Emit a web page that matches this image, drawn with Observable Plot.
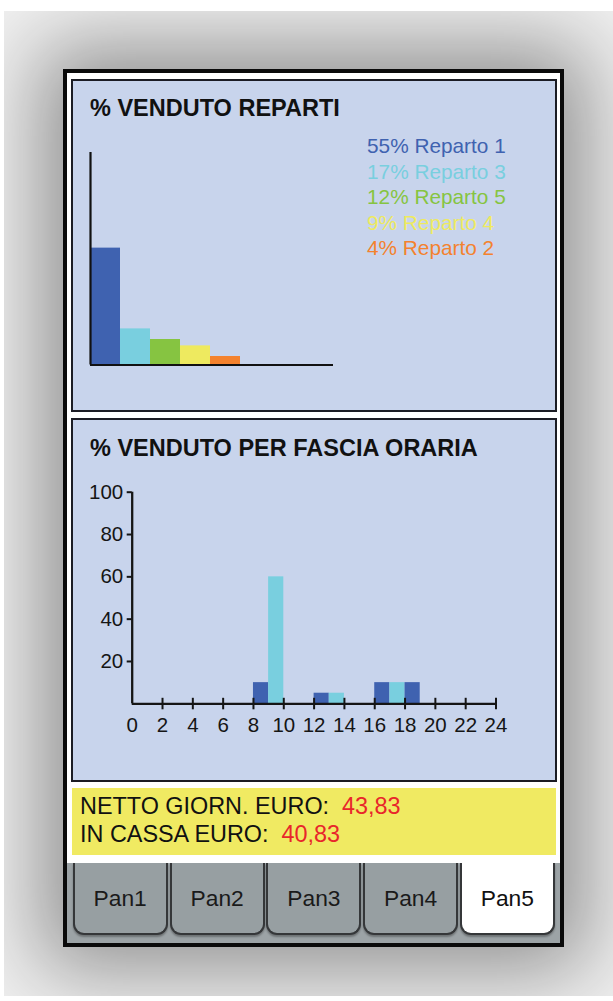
<!DOCTYPE html>
<html>
<head>
<meta charset="utf-8">
<script src="https://cdn.jsdelivr.net/npm/d3@7"></script>
<script src="https://cdn.jsdelivr.net/npm/@observablehq/plot@0.6"></script>
<style>
  html, body { margin: 0; padding: 0; background: #fff; }
  body { width: 613px; height: 1001px; position: relative; overflow: hidden;
         font-family: "Liberation Sans", Arial, sans-serif; }
  .abs { position: absolute; box-sizing: border-box; }
  #shade { left: 4px; top: 11px; width: 609px; height: 985px; background: #f1f1f1; overflow: hidden; }
  #frame { left: 59px; top: 58px; width: 501px; height: 878px; border: 4px solid #0a0a0a; background: #fff;
           box-shadow: 0 0 80px 24px rgba(0,0,0,0.4); }
  .panel { background: #c8d4ec; border: 2px solid #1b1c24; }
  .title { font-weight: bold; font-size: 23.5px; line-height: 23.5px; color: #111; white-space: nowrap; }
  #legend { left: 367px; top: 133px; font-size: 20.8px; line-height: 25.5px; white-space: nowrap; }
  #totals { left: 80px; top: 793px; font-size: 23.4px; line-height: 27.7px; color: #111; white-space: pre; }
  #totals .v { color: #e8262b; }
  #yellow { left: 72px; top: 788px; width: 484px; height: 67px; background: #f0ea62; }
  #tabarea { left: 67px; top: 863px; width: 493px; height: 80px; background: #9ca3a6; }
  .tab { top: 863px; width: 95px; height: 72px; background: #979fa2; border: 2px solid #353739; border-top: none;
         border-radius: 0 0 11px 11px; box-shadow: 0 2px 2px rgba(0,0,0,0.3);
         font-size: 22.8px; line-height: 22.8px; color: #1a1a1a; text-align: center; padding-top: 24.4px; }
  .tab.sel { background: #fff; color: #111; }
  svg { display: block; }
</style>
</head>
<body>
<div id="shade" class="abs"><div id="frame" class="abs"></div></div>
<div class="abs panel" style="left:71px;top:79px;width:486px;height:333px;"></div>
<div class="abs panel" style="left:71px;top:418px;width:486px;height:364px;"></div>
<div id="yellow" class="abs"></div>
<div id="tabarea" class="abs"></div>
<div id="title1" class="abs title" style="left:90px;top:97.1px;"></div>
<div id="title2" class="abs title" style="left:90px;top:436.8px;"></div>
<div id="legend" class="abs"></div>
<div id="totals" class="abs"></div>
<div id="tabs"></div>
<div id="chart1" class="abs" style="left:73px;top:81px;"></div>
<div id="chart2" class="abs" style="left:73px;top:420px;"></div>
<script>
// ---- data ----
const title1 = "% VENDUTO REPARTI";
const title2 = "% VENDUTO PER FASCIA ORARIA";
const reparti = ["Reparto 1", "Reparto 3", "Reparto 5", "Reparto 4", "Reparto 2"];
const repartiPct = [55, 17, 12, 9, 4];
const repartiColors = ["#3f62b0", "#79cfdf", "#86c441", "#eeea5f", "#f4822e"];
const ore = [8, 9, 12, 13, 16, 17, 18];
const orePct = [10, 60, 5, 5, 10, 10, 10];
const oreColors = ["#3f62b0", "#79cfdf"]; // even hour, odd hour
const xTicks = [0, 2, 4, 6, 8, 10, 12, 14, 16, 18, 20, 22, 24];
const yTicks = [20, 40, 60, 80, 100];
const totLabels = ["NETTO GIORN. EURO:", "IN CASSA EURO:"];
const totValues = ["43,83", "40,83"];
const tabLabels = ["Pan1", "Pan2", "Pan3", "Pan4", "Pan5"];
const selectedTab = "Pan5";

// ---- texts ----
document.getElementById("title1").textContent = title1;
document.getElementById("title2").textContent = title2;
const leg = document.getElementById("legend");
reparti.forEach((r, i) => {
  const d = document.createElement("div");
  d.textContent = `${repartiPct[i]}% ${r}`;
  d.style.color = repartiColors[i];
  leg.appendChild(d);
});
const tot = document.getElementById("totals");
totLabels.forEach((l, i) => {
  const d = document.createElement("div");
  d.textContent = l + "  ";
  const s = document.createElement("span");
  s.className = "v";
  s.textContent = totValues[i];
  d.appendChild(s);
  tot.appendChild(d);
});
const tabsEl = document.getElementById("tabs");
const tabLefts = [72.7, 169.7, 266.4, 363.1, 459.8];
tabLabels.forEach((t, i) => {
  const d = document.createElement("div");
  d.className = "abs tab" + (t === selectedTab ? " sel" : "");
  d.style.left = tabLefts[i] + "px";
  d.textContent = t;
  tabsEl.appendChild(d);
});

// ---- chart 1 ----
const repData = reparti.map((r, i) => ({i, r, p: repartiPct[i]}));
const c1 = Plot.plot({
  width: 482, height: 329,
  marginLeft: 17, marginRight: 222, marginTop: 71, marginBottom: 45.5,
  x: {domain: [0, 8.1], axis: null},
  y: {domain: [0, 100], axis: null},
  color: {type: "identity"},
  style: {background: "transparent", overflow: "visible"},
  marks: [
    Plot.rect(repData, {x1: d => d.i, x2: d => d.i + 1, y1: 0, y2: d => d.p, fill: d => repartiColors[d.i]}),
    Plot.ruleX([0], {y1: 0, y2: 100, stroke: "#111", strokeWidth: 2.2}),
    Plot.ruleY([0], {x1: 0, x2: 8.1, stroke: "#111", strokeWidth: 2.2})
  ]
});
document.getElementById("chart1").appendChild(c1);

// ---- chart 2 ----
const oreData = ore.map((h, i) => ({h, v: orePct[i]}));
const W2 = 482, H2 = 360, mT = 71.7, mB = 76.7;
const innerH = H2 - mT - mB;
const c2 = Plot.plot({
  width: W2, height: H2,
  marginLeft: 58.7, marginRight: 59.5, marginTop: mT, marginBottom: mB,
  x: {domain: [0, 24]},
  y: {domain: [0, 100]},
  color: {type: "identity"},
  style: {background: "transparent", color: "#151515", fontFamily: "'Liberation Sans', Arial, sans-serif", overflow: "visible"},
  marks: [
    Plot.rect(oreData, {x1: d => d.h, x2: d => d.h + 1, y1: 0, y2: d => d.v, fill: d => oreColors[d.h % 2]}),
    Plot.ruleX([0], {y1: 0, y2: 100, stroke: "#151515", strokeWidth: 2.3}),
    Plot.ruleY([0], {x1: 0, x2: 24, stroke: "#151515", strokeWidth: 2.3}),
    Plot.tickX(xTicks.filter(t => t > 0), {x: d => d, stroke: "#151515", strokeWidth: 2, insetTop: innerH - 5.5, insetBottom: -6}),
    Plot.axisX(xTicks, {tickSize: 0, tickPadding: 14, fontSize: 20.5, label: null, tickFormat: d => String(d)}),
    Plot.axisY(yTicks, {tickSize: 5, tickPadding: 4, strokeWidth: 2, fontSize: 20.5, label: null, tickFormat: d => String(d)})
  ]
});
document.getElementById("chart2").appendChild(c2);
</script>
</body>
</html>
